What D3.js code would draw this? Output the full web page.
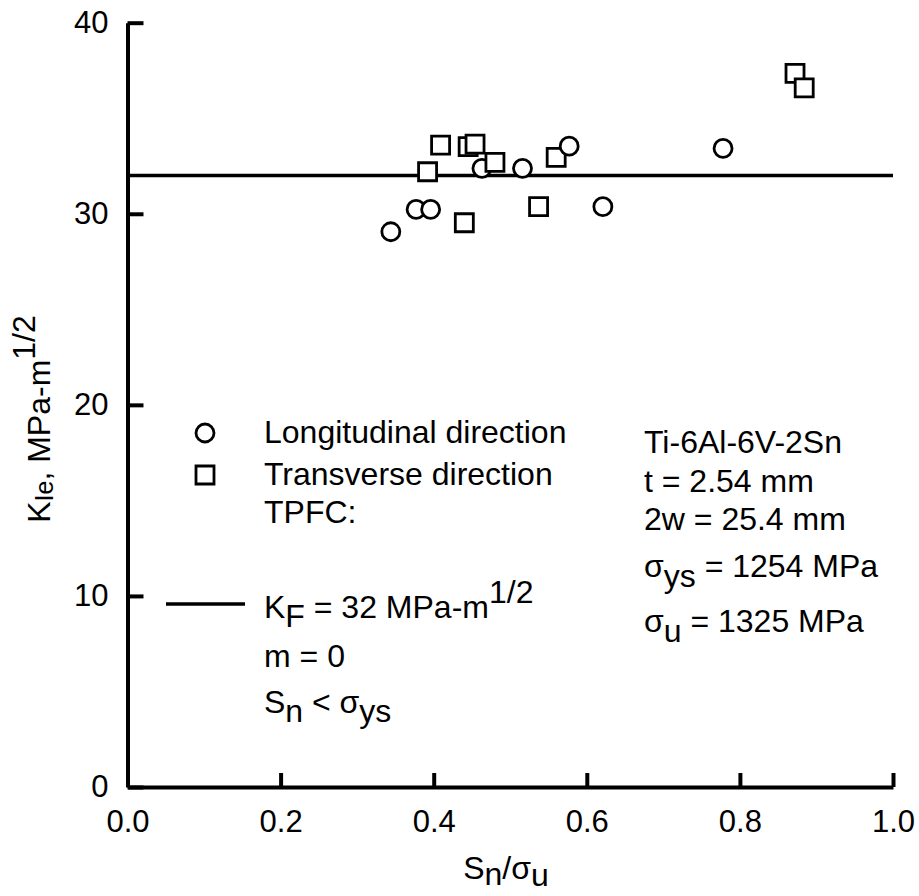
<!DOCTYPE html>
<html lang="en">
    <head>
        <meta charset="utf-8">
        <title>KIe vs Sn/su, Ti-6Al-6V-2Sn</title>
        <script src="https://cdn.jsdelivr.net/npm/d3@7"></script>
        <style type="text/css">
            body { margin: 0; background: white; }
            svg text {
                font-family: "Liberation Sans", Arial, sans-serif;
                fill: black;
            }
            .axis text { font-size: 31px; }
            .axis path, .axis line { stroke: black; stroke-width: 4px; }
            .note { font-size: 32px; }
        </style>
    </head>
    <body>
        <script type="text/javascript">

            // Longitudinal direction (circles)
            var longX = [0.344, 0.377, 0.396, 0.463, 0.516, 0.577, 0.621, 0.778];
            var longY = [29.06, 30.23, 30.23, 32.38, 32.38, 33.54, 30.37, 33.42];
            // Transverse direction (squares)
            var transX = [0.392, 0.409, 0.440, 0.445, 0.454, 0.480, 0.537, 0.560, 0.872, 0.884];
            var transY = [32.20, 33.59, 29.53, 33.51, 33.65, 32.69, 30.37, 32.95, 37.35, 36.59];
            // TPFC line
            var kF = 32;
            var xTicks = [0, 0.2, 0.4, 0.6, 0.8, 1.0];
            var yTicks = [0, 10, 20, 30, 40];

            var w = 919;
            var h = 896;
            var padL = 127.5, padR = 893, padT = 22.7, padB = 787;

            var svg = d3.select("body")
                .append("svg")
                .attr("width", w)
                .attr("height", h);

            var xScale = d3.scaleLinear().domain([0, 1]).range([padL, padR]);
            var yScale = d3.scaleLinear().domain([0, 40]).range([padB, padT]);

            var xAxis = d3.axisBottom(xScale)
                .tickValues(xTicks)
                .tickFormat(d3.format(".1f"))
                .tickSizeInner(-14)
                .tickSizeOuter(0)
                .tickPadding(23);
            var yAxis = d3.axisLeft(yScale)
                .tickValues(yTicks)
                .tickFormat(d3.format("d"))
                .tickSizeInner(-16)
                .tickSizeOuter(0)
                .tickPadding(19);

            svg.append("g")
                .attr("class", "axis")
                .attr("transform", "translate(0," + padB + ")")
                .call(xAxis);
            svg.append("g")
                .attr("class", "axis")
                .attr("transform", "translate(" + padL + ",0)")
                .call(yAxis);

            // TPFC fit line
            svg.append("line")
                .attr("x1", xScale(0)).attr("x2", xScale(1))
                .attr("y1", yScale(kF)).attr("y2", yScale(kF))
                .attr("stroke", "black")
                .attr("stroke-width", 3.5);

            // points, drawn in x order so overlaps stack like the original
            var pts = [];
            longX.forEach(function(x, i) { pts.push({x: x, y: longY[i], kind: "c"}); });
            transX.forEach(function(x, i) { pts.push({x: x, y: transY[i], kind: "s"}); });
            pts.sort(function(a, b) { return a.x - b.x; });

            var sym = {c: d3.symbol(d3.symbolCircle, Math.PI * 9 * 9),
                       s: d3.symbol(d3.symbolSquare, 18 * 18)};
            svg.selectAll("path.pt")
                .data(pts)
                .enter()
                .append("path")
                .attr("class", "pt")
                .attr("d", function(d) { return sym[d.kind](); })
                .attr("transform", function(d) { return "translate(" + xScale(d.x) + "," + yScale(d.y) + ")"; })
                .attr("fill", "white")
                .attr("stroke", "black")
                .attr("stroke-width", 2.8);

            // legend
            svg.append("path").attr("d", sym.c()).attr("transform", "translate(205,433)")
                .attr("fill", "white").attr("stroke", "black").attr("stroke-width", 2.8);
            svg.append("path").attr("d", sym.s()).attr("transform", "translate(205,475)")
                .attr("fill", "white").attr("stroke", "black").attr("stroke-width", 2.8);
            svg.append("line")
                .attr("x1", 166).attr("x2", 245).attr("y1", 604).attr("y2", 604)
                .attr("stroke", "black").attr("stroke-width", 3.5);

            function note(x, y, parts) {
                var t = svg.append("text").attr("class", "note").attr("x", x).attr("y", y);
                parts.forEach(function(p) {
                    t.append("tspan").attr("dy", p[1] || 0).text(p[0]);
                });
                return t;
            }

            note(264, 443, [["Longitudinal direction"]]);
            note(264, 485, [["Transverse direction"]]);
            note(264, 523, [["TPFC:"]]);
            note(264, 618, [["K"], ["F", 9], [" = 32 MPa-m", -9], ["1/2", -15]]);
            note(264, 667, [["m = 0"]]);
            note(264, 713, [["S"], ["n", 9], [" < \u03c3", -9], ["ys", 9]]);

            note(644, 453, [["Ti-6Al-6V-2Sn"]]);
            note(644, 492, [["t = 2.54 mm"]]);
            note(644, 530, [["2w = 25.4 mm"]]);
            note(644, 577, [["\u03c3"], ["ys", 10], [" = 1254 MPa", -10]]);
            note(644, 632, [["\u03c3"], ["u", 10], [" = 1325 MPa", -10]]);

            // axis titles
            var xt = svg.append("text").attr("class", "note")
                .attr("x", 506).attr("y", 879).attr("text-anchor", "middle");
            xt.append("tspan").text("S");
            xt.append("tspan").attr("dy", 6).text("n");
            xt.append("tspan").attr("dy", -6).text("/\u03c3");
            xt.append("tspan").attr("dy", 7).text("u");

            var yt = svg.append("text").attr("class", "note")
                .attr("text-anchor", "middle")
                .attr("transform", "translate(50,419) rotate(-90)");
            yt.append("tspan").text("K");
            yt.append("tspan").attr("dy", 3).style("font-size", "25px").text("Ie");
            yt.append("tspan").attr("dy", -3).text(", MPa-m");
            yt.append("tspan").attr("dy", -15).text("1/2");

        </script>
    </body>
</html>
